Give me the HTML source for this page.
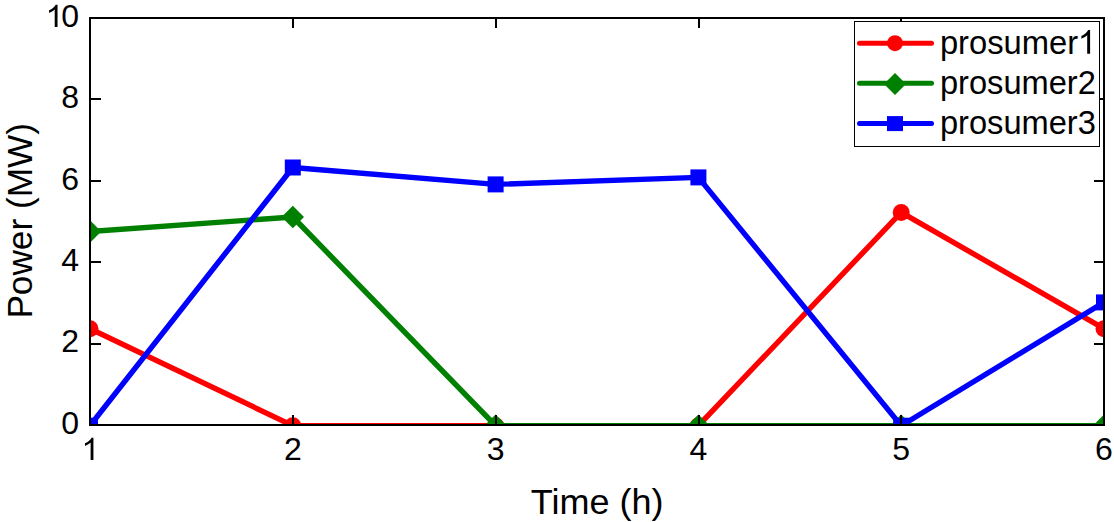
<!DOCTYPE html>
<html><head><meta charset="utf-8"><title>chart</title>
<style>
html,body{margin:0;padding:0;background:#fff;}
body{width:1114px;height:522px;overflow:hidden;font-family:"Liberation Sans",sans-serif;}
svg{display:block;font-family:"Liberation Sans",sans-serif;}
</style></head><body>
<svg width="1114" height="522" viewBox="0 0 1114 522">
<defs><clipPath id="c"><rect x="90" y="18" width="1014" height="407"/></clipPath></defs>
<rect width="1114" height="522" fill="#fff"/>
<g clip-path="url(#c)">
<polyline points="90,328.7 292.8,425.7 495.6,425.7 698.4,425.7 901.2,212.4 1104,328.7" fill="none" stroke="#ff0000" stroke-width="5.4" stroke-linejoin="round"/>
<circle cx="90" cy="328.7" r="8.5" fill="#ff0000"/>
<circle cx="292.8" cy="425.7" r="8.5" fill="#ff0000"/>
<circle cx="495.6" cy="425.7" r="8.5" fill="#ff0000"/>
<circle cx="698.4" cy="425.7" r="8.5" fill="#ff0000"/>
<circle cx="901.2" cy="212.4" r="8.5" fill="#ff0000"/>
<circle cx="1104" cy="328.7" r="8.5" fill="#ff0000"/>
<polyline points="90,231.5 292.8,217 495.6,425.7 698.4,425.7 901.2,425.7 1104,425.7" fill="none" stroke="#008000" stroke-width="5.4" stroke-linejoin="round"/>
<polygon points="78.8,231.5 90,220.3 101.2,231.5 90,242.7" fill="#008000"/>
<polygon points="281.6,217 292.8,205.8 304.0,217 292.8,228.2" fill="#008000"/>
<polygon points="484.40000000000003,425.7 495.6,414.5 506.8,425.7 495.6,436.9" fill="#008000"/>
<polygon points="687.1999999999999,425.7 698.4,414.5 709.6,425.7 698.4,436.9" fill="#008000"/>
<polygon points="890.0,425.7 901.2,414.5 912.4000000000001,425.7 901.2,436.9" fill="#008000"/>
<polygon points="1092.8,425.7 1104,414.5 1115.2,425.7 1104,436.9" fill="#008000"/>
<polyline points="90,425.7 292.8,167.5 495.6,184.4 698.4,177.4 901.2,425.7 1104,302.4" fill="none" stroke="#0000ff" stroke-width="5.4" stroke-linejoin="round"/>
<rect x="82.0" y="417.7" width="16" height="16" fill="#0000ff"/>
<rect x="284.8" y="159.5" width="16" height="16" fill="#0000ff"/>
<rect x="487.6" y="176.4" width="16" height="16" fill="#0000ff"/>
<rect x="690.4" y="169.4" width="16" height="16" fill="#0000ff"/>
<rect x="893.2" y="417.7" width="16" height="16" fill="#0000ff"/>
<rect x="1096.0" y="294.4" width="16" height="16" fill="#0000ff"/>
</g>
<g stroke="#000" stroke-width="2" fill="none" shape-rendering="crispEdges">
<rect x="90" y="18" width="1014" height="407"/>
<line x1="293" y1="425" x2="293" y2="415"/>
<line x1="293" y1="18" x2="293" y2="28"/>
<line x1="496" y1="425" x2="496" y2="415"/>
<line x1="496" y1="18" x2="496" y2="28"/>
<line x1="699" y1="425" x2="699" y2="415"/>
<line x1="699" y1="18" x2="699" y2="28"/>
<line x1="901" y1="425" x2="901" y2="415"/>
<line x1="901" y1="18" x2="901" y2="28"/>
<line x1="90" y1="344" x2="101" y2="344"/>
<line x1="1104" y1="344" x2="1094" y2="344"/>
<line x1="90" y1="262" x2="101" y2="262"/>
<line x1="1104" y1="262" x2="1094" y2="262"/>
<line x1="90" y1="181" x2="101" y2="181"/>
<line x1="1104" y1="181" x2="1094" y2="181"/>
<line x1="90" y1="99" x2="101" y2="99"/>
<line x1="1104" y1="99" x2="1094" y2="99"/>
</g>
<path d="M763 0H583V1147Q518 1085 412.5 1023T223 930V1104Q374 1175 487 1276T647 1472H763Z" transform="translate(81.5,460) scale(0.015625,-0.015149456521739131)" fill="#000"/>
<path d="M763 0H583V1147Q518 1085 412.5 1023T223 930V1104Q374 1175 487 1276T647 1472H763Z" transform="translate(45.6,27) scale(0.015625,-0.015149456521739131)" fill="#000"/>
<g font-size="32px" fill="#000"><text x="292.8" y="460" text-anchor="middle">2</text><text x="495.6" y="460" text-anchor="middle">3</text><text x="698.4" y="460" text-anchor="middle">4</text><text x="901.2" y="460" text-anchor="middle">5</text><text x="1104" y="460" text-anchor="middle">6</text><text x="79" y="433.7" text-anchor="end">0</text><text x="79" y="352.3" text-anchor="end">2</text><text x="79" y="270.9" text-anchor="end">4</text><text x="79" y="189.5" text-anchor="end">6</text><text x="79" y="108.1" text-anchor="end">8</text><text x="79" y="26.7" text-anchor="end">0</text></g>
<text x="530.8" y="513.8" font-size="35px" textLength="132.8" lengthAdjust="spacingAndGlyphs">Time (h)</text>
<text transform="translate(32,318.6) rotate(-90)" font-size="35px" textLength="195.5" lengthAdjust="spacingAndGlyphs">Power (MW)</text>
<rect x="854.5" y="21.5" width="245" height="125" fill="#fff" stroke="#000" stroke-width="1" shape-rendering="crispEdges"/>
<line x1="859.5" y1="43.2" x2="931.5" y2="43.2" stroke="#ff0000" stroke-width="5" stroke-linecap="round"/>
<line x1="859.5" y1="83.3" x2="931.5" y2="83.3" stroke="#008000" stroke-width="5" stroke-linecap="round"/>
<line x1="859.5" y1="123.4" x2="931.5" y2="123.4" stroke="#0000ff" stroke-width="5" stroke-linecap="round"/>
<circle cx="895" cy="43.2" r="8" fill="#ff0000"/>
<polygon points="884,84.0 895,73.0 906,84.0 895,95.0" fill="#008000"/>
<rect x="887" y="116.10000000000001" width="16" height="15" fill="#0000ff"/>
<text x="939.9" y="53.900000000000006" font-size="33px" textLength="138.3" lengthAdjust="spacingAndGlyphs">prosumer</text>
<path d="M763 0H583V1147Q518 1085 412.5 1023T223 930V1104Q374 1175 487 1276T647 1472H763Z" transform="translate(1077.8,53.7) scale(0.01611328125,-0.016032608695652175)" fill="#000"/>
<text x="939.9" y="94.0" font-size="33px" textLength="156" lengthAdjust="spacingAndGlyphs">prosumer2</text>
<text x="939.9" y="134.1" font-size="33px" textLength="156" lengthAdjust="spacingAndGlyphs">prosumer3</text>
</svg>
</body></html>
